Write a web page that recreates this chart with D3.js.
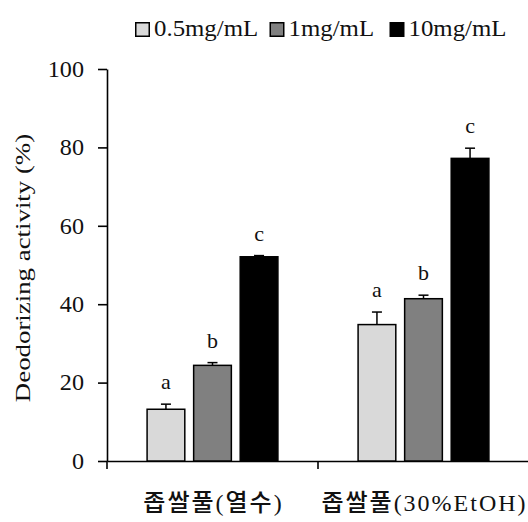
<!DOCTYPE html>
<html><head><meta charset="utf-8">
<script src="https://cdn.jsdelivr.net/npm/d3@7"></script>
<style>body{margin:0;background:#fff}svg{display:block}</style>
</head><body>
<script>
const categories = ["좁쌀풀(열수)", "좁쌀풀(30%EtOH)"];
const seriesNames = ["0.5mg/mL", "1mg/mL", "10mg/mL"];
const seriesColors = ["#d9d9d9", "#808080", "#000000"];
const values = [[13.2, 24.4, 52.1], [34.8, 41.4, 77.2]];
const errors = [[1.3, 0.7, 0.3], [3.2, 0.9, 2.6]];
const letters = [["a", "b", "c"], ["a", "b", "c"]];
const yTicks = [0, 20, 40, 60, 80, 100];
const yLabel = "Deodorizing activity (%)";

const W = 528, H = 522;
const margin = {left: 107, right: -1, top: 69, bottom: 61};
const svg = d3.select("body").append("svg").attr("width", W).attr("height", H);
const font = "'Liberation Serif','Times New Roman',serif";
const ink = "#111";

// widen glyphs horizontally to mimic the wider serif face of the original
function stretch(sel, f) {
  sel.each(function () {
    const n = this.getComputedTextLength();
    d3.select(this).attr("textLength", n * f).attr("lengthAdjust", "spacingAndGlyphs");
  });
}

const x0 = d3.scaleBand().domain(categories).range([margin.left, W - margin.right]);
const bw = x0.bandwidth();
const x1 = d3.scaleBand().domain(seriesNames).range([bw * 0.19, bw * 0.81]).paddingInner(0.19).paddingOuter(0);
const y = d3.scaleLinear().domain([0, 100]).range([H - margin.bottom, margin.top]);

// y axis
const ya = svg.append("g").attr("transform", `translate(${margin.left},0)`)
  .call(d3.axisLeft(y).tickValues(yTicks).tickSize(9).tickSizeOuter(0).tickPadding(14));
ya.attr("font-family", font).attr("font-size", 23);
ya.selectAll("path,line").attr("stroke", "#000").attr("stroke-width", 1.6);
ya.selectAll("text").attr("font-family", font).attr("font-size", 23).attr("fill", ink);
stretch(ya.selectAll("text"), 1.05);

// x axis
const xa = svg.append("g").attr("transform", `translate(0,${y(0)})`)
  .call(d3.axisBottom(x0).tickSize(0).tickSizeOuter(0).tickFormat(""));
xa.select("path").attr("stroke", "#000").attr("stroke-width", 1.6);
xa.selectAll(".tick").remove();
const boundaries = categories.map(c => x0(c)).concat([x0(categories[categories.length - 1]) + bw]);
xa.selectAll("line.bt").data(boundaries).enter().append("line").attr("class", "bt")
  .attr("x1", d => d).attr("x2", d => d).attr("y1", 0).attr("y2", 8)
  .attr("stroke", "#000").attr("stroke-width", 1.6);

// category labels
svg.append("g").selectAll("text").data(categories).enter().append("text")
  .attr("x", c => x0(c) + bw / 2 + 1).attr("y", 511)
  .attr("text-anchor", "middle")
  .attr("font-family", "'Liberation Serif','Noto Sans CJK KR',serif")
  .attr("font-size", 24).attr("font-weight", 500).attr("fill", ink)
  .attr("letter-spacing", 2)
  .text(c => c);

// bars
const flat = [];
categories.forEach((c, ci) => seriesNames.forEach((s, si) => flat.push({c, s, si, v: values[ci][si], e: errors[ci][si], l: letters[ci][si]})));
const g = svg.append("g");
g.selectAll("rect.bar").data(flat).enter().append("rect").attr("class", "bar")
  .attr("x", d => x0(d.c) + x1(d.s)).attr("width", x1.bandwidth())
  .attr("y", d => y(d.v)).attr("height", d => y(0) - y(d.v))
  .attr("fill", d => seriesColors[d.si]).attr("stroke", "#000").attr("stroke-width", 1.5);

// error bars (upper only)
const cx = d => x0(d.c) + x1(d.s) + x1.bandwidth() / 2;
const eg = g.selectAll("g.err").data(flat).enter().append("g").attr("class", "err");
eg.append("line")
  .attr("x1", cx).attr("x2", cx)
  .attr("y1", d => y(d.v)).attr("y2", d => y(d.v + d.e))
  .attr("stroke", "#000").attr("stroke-width", 1.5);
eg.append("line")
  .attr("x1", d => cx(d) - 5).attr("x2", d => cx(d) + 5)
  .attr("y1", d => y(d.v + d.e)).attr("y2", d => y(d.v + d.e))
  .attr("stroke", "#000").attr("stroke-width", 1.5);

// letters
g.selectAll("text.lt").data(flat).enter().append("text").attr("class", "lt")
  .attr("x", cx)
  .attr("y", d => y(d.v + d.e) - 15)
  .attr("text-anchor", "middle").attr("font-family", font).attr("font-size", 22).attr("fill", ink)
  .text(d => d.l);

// y label
const yl = svg.append("text").attr("transform", `translate(30,${(y(0) + y(100)) / 2 + 3}) rotate(-90)`)
  .attr("text-anchor", "middle").attr("font-family", font).attr("font-size", 22).attr("fill", ink)
  .text(yLabel);
stretch(yl, 1.22);

// legend
const legendX = [135, 269.5, 389.5];
const lg = svg.append("g").selectAll("g").data(seriesNames).enter().append("g")
  .attr("transform", (d, i) => `translate(${legendX[i]},0)`);
lg.append("rect").attr("x", 0.75).attr("y", 22.75).attr("width", 13.5).attr("height", 13.5)
  .attr("fill", (d, i) => seriesColors[i]).attr("stroke", "#000").attr("stroke-width", 1.5);
const lt = lg.append("text").attr("x", 19).attr("y", 36).attr("font-family", font).attr("font-size", 23).attr("fill", ink)
  .text(d => d);
stretch(lt, 1.08);
</script>
</body></html>
